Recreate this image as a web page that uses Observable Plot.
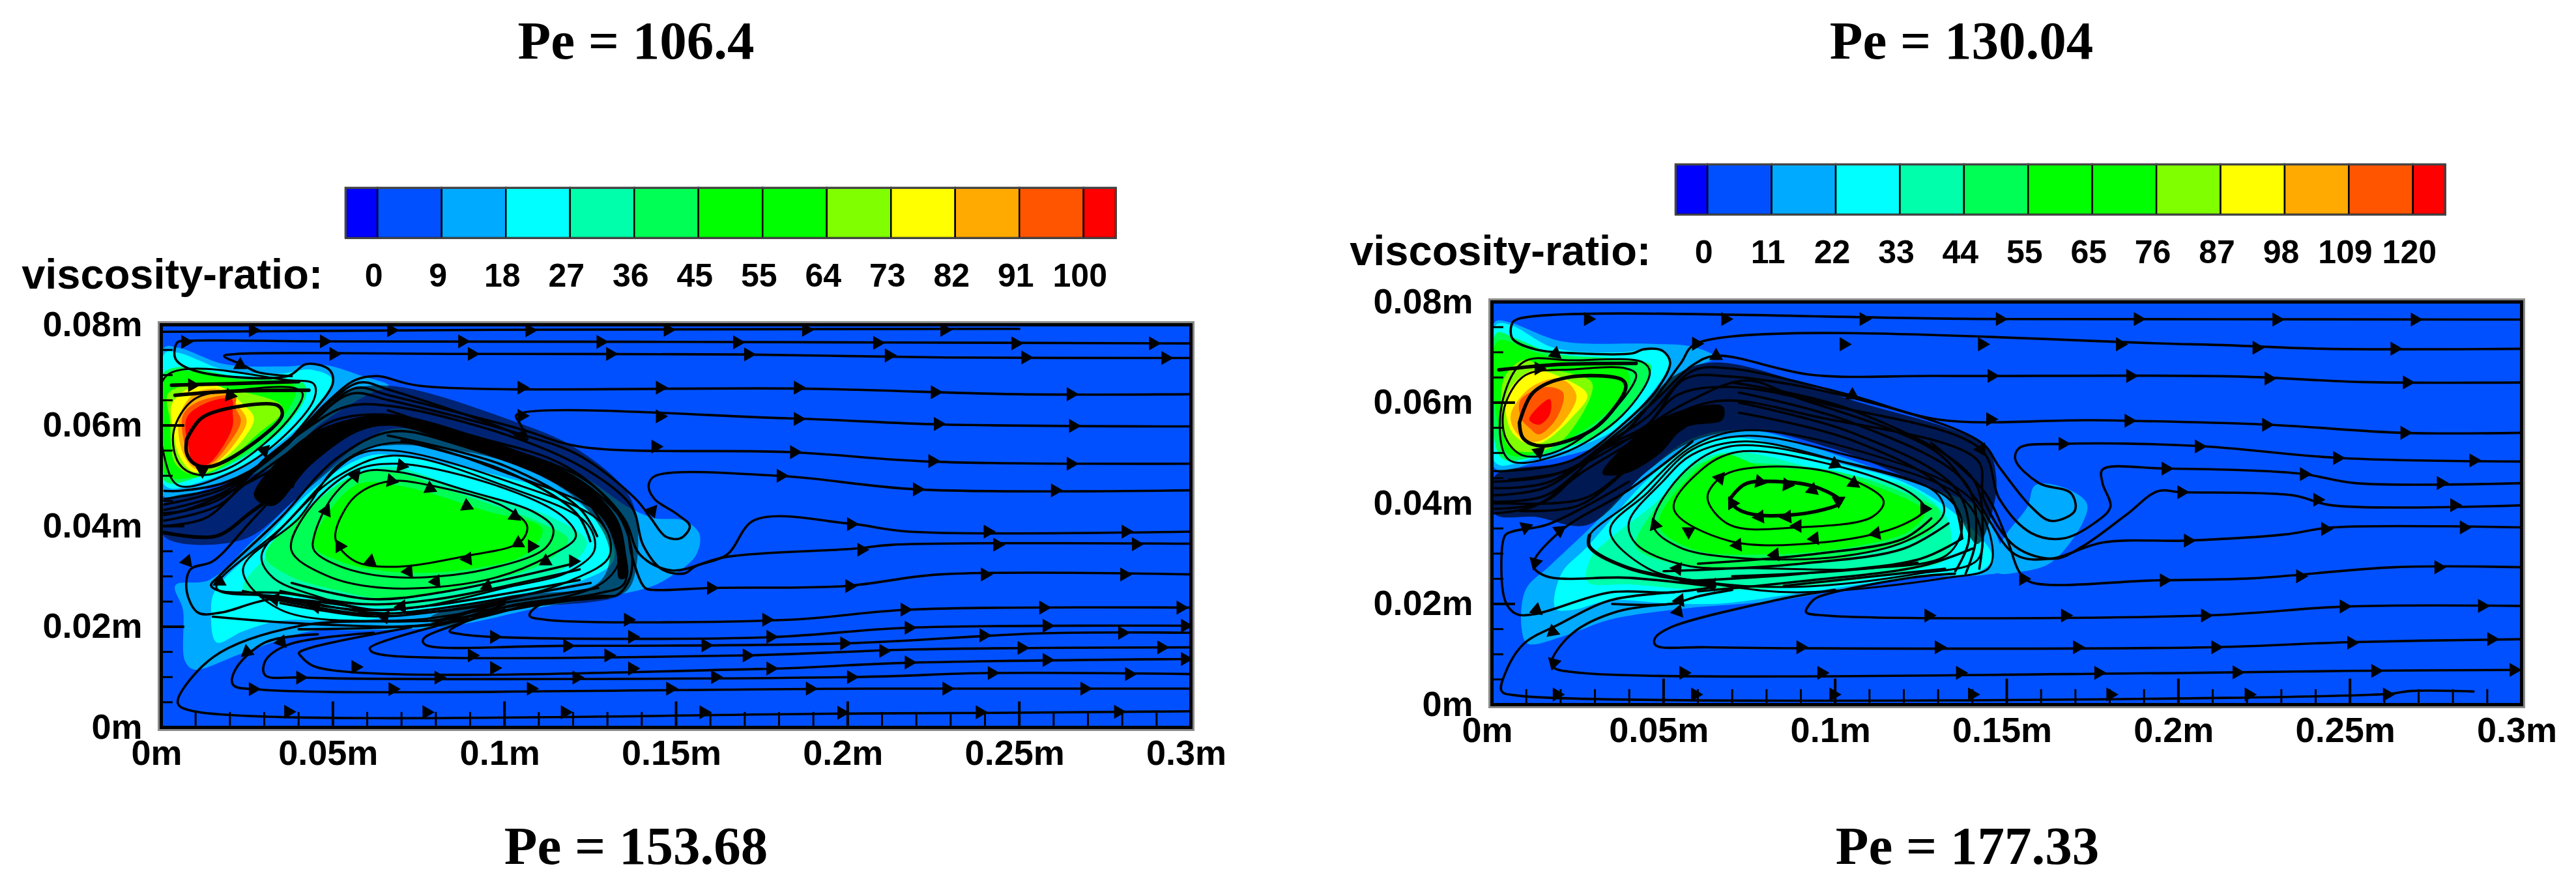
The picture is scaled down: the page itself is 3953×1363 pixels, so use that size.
<!DOCTYPE html>
<html><head><meta charset="utf-8">
<script src="https://cdn.jsdelivr.net/npm/d3@7"></script>
<script src="https://cdn.jsdelivr.net/npm/@observablehq/plot@0.6"></script>
<style>
html,body{margin:0;padding:0;background:#fff}
#page{position:relative;width:3953px;height:1363px;overflow:hidden;background:#fff}
#page>svg,#page>figure{position:absolute;margin:0}
.pe{position:absolute;font:bold 83px "Liberation Serif",serif;color:#000;white-space:nowrap;transform:translate(-50%,-50%)}
</style></head><body><div id="page"></div>
<script>
// All positions are in millimetres of the simulated domain (0-300 x 0-80).
const titles = [["Pe = 106.4",976,62],["Pe = 130.04",3010,62],["Pe = 153.68",976,1298],["Pe = 177.33",3019,1298]];
const bandColors = ["#0000ff","#0050ff","#00aaff","#00ffff","#00ffaa","#00ff55","#00ff00","#00ff00","#7fff00","#ffff00","#ffaa00","#ff5500","#ff0000"];
const labelsA = [0,9,18,27,36,45,55,64,73,82,91,100];
const labelsB = [0,11,22,33,44,55,65,76,87,98,109,120];
const xTicks = [0,50,100,150,200,250,300];
const yTicks = [0,20,40,60,80];
const xMinor = [10,20,30,40,60,70,80,90,110,120,130,140,160,170,180,190,210,220,230,240,260,270,280,290];
const yMinor = [5,10,15,25,30,35,45,50,55,65,70,75];
const xMajor = [50,100,150,200,250];
const yMajor = [20,40,60];

// ---------- filled viscosity-ratio bands, panel A (band index into bandColors, outline)
const fillsA = [
 [2,[[4.1,28.2],[14,29.3],[27,37.3],[43.4,48],[56.5,55.6],[67.4,59.3],[100,55.6],[122,50.2],[136,43.8],[143.7,41.6],[152.4,41.1],[156.8,38.4],[155.7,34.1],[148,29.8],[141.5,27.7],[111,23.9],[83.7,20.1],[58.6,19.3],[43.4,19.1],[23.8,14.8],[9.6,11.5],[6.9,13.2],[6.3,23.4]]],
 [2,[[0.7,45.9],[0.7,75.4],[5.2,75.4],[18.3,72.2],[34.7,71.7],[47.7,72],[58.6,69.8],[66.3,67.9],[60.8,66.3],[45.6,59.9],[34.7,52.4],[19.4,49.1]]],
 [3,[[15.6,27.1],[27,35.2],[45.6,48.1],[60.8,54],[73.9,53.4],[100,49.7],[119.7,45.4],[130.6,37.9],[131.7,33],[123,29.3],[100,26],[79.4,23.4],[56.5,21.2],[34.7,21.2],[23.8,19.1],[16.1,16.9],[14.5,23.4]]],
 [3,[[1.1,74.4],[5.2,74.4],[18.3,71.1],[34.7,70.3],[43.4,71.1],[50,69],[43.4,62],[29.2,54],[12.9,49.1],[1.1,48]]],
 [4,[[23.8,27.7],[36.8,37.9],[52.1,48.1],[65.2,51.8],[89.2,47],[114.2,41.6],[124,36.8],[118.6,32],[94.6,26.6],[77.2,24.2],[61.9,23.9],[45.6,25.5],[32.5,26.6]]],
 [5,[[30.3,34.1],[43.4,43.8],[56.5,50.2],[67.4,50.7],[89.2,45.9],[111,40.5],[118.6,37.3],[111,32.5],[89.2,28.2],[67.4,25.5],[52.1,27.1],[36.8,30.3]]],
 [6,[[44.5,36.2],[56.5,48.1],[69.5,48],[94.6,43],[111,39.5],[106.6,34.6],[89.2,31.4],[67.4,30.9],[52.1,33]]],
 [5,[[0.9,70.6],[23.8,69.5],[41.2,68.5],[42.3,66.3],[34.7,58.8],[20.5,52.4],[10.7,49.7],[1.1,48.9]]],
 [6,[[1.4,69.8],[23.8,69],[39,67.9],[39,65.8],[32.5,59.3],[19.4,52.4],[9.6,49.7],[1.4,50.2]]],
 [8,[[2,66.3],[9.6,68.2],[18.3,67.4],[34.7,64.2],[35.2,62.6],[28.1,58.3],[17.2,51.8],[9.6,50.2],[4.1,52.4],[2.5,60.9]]],
 [9,[[3.1,64.2],[9.6,67.9],[17.2,67.7],[23.8,64.2],[27,61.5],[23.8,57.2],[16.1,52.4],[9.6,50.7],[5.2,54],[3.6,58.8]]],
 [10,[[5.2,61.5],[9.6,66.3],[17.2,67.1],[22.7,63.6],[24.9,60.9],[21.6,56.6],[15,52.1],[10.1,51.3],[6.3,54.5]]],
 [11,[[6.3,62],[10.7,64.7],[21.6,65.8],[21.6,63.6],[23.2,60.9],[19.4,56.1],[14.5,52.4],[10.1,51.8],[7.4,55]]],
 [12,[[7.4,61.5],[12.9,64.4],[20.5,65.2],[20.8,62.6],[20.8,59.9],[18.2,56.1],[13.4,52.2],[9.8,52],[7.8,56.1]]]
];
const hatchA = [[66.3,67.9],[100,61.5],[121.9,55],[137.2,44.8],[137.2,28.7],[132.8,26],[100,23.4],[80.5,20.1],[78.3,21.7],[100,26],[127.3,28.7],[130.6,35.2],[121.9,44.8],[100,52.9],[67.4,56.1],[56.5,54.5],[40.1,45.9],[23.8,37.3],[0.9,37.9],[0.9,44.8],[19.4,48],[38,56.6],[52.1,66.3]];
const coreA = [[27,46],[42.3,57.8],[60.8,62],[69.5,61.6],[100,56],[121.9,49],[132.8,41.5],[135.5,34.1],[135.8,30],[133.5,29.5],[132.5,35.2],[128.4,41.6],[113.1,49.1],[89.2,55.4],[67.4,59.9],[57.6,58.8],[43.4,52],[32.5,44]];
const flowA = [
 [[0,78.6],[30,78.7],[100,79],[250,79.2]],
 [[0.9,47],[5.2,47],[18.3,48.6],[32.5,54],[43.4,62],[50,68.5],[48.9,71.1],[42.3,72.2],[36.8,69.8],[9.6,70.9],[4.1,73.3],[4.7,76.5],[7.4,76.8],[47.4,76.7],[150,76.6],[300,76.3]],
 [[300,73.4],[229,73.5],[169.4,74.1],[91,74.2],[22,74.2],[18.3,73.8],[23.8,72],[28,70.6],[38,69.8]],
 [[0.9,45.4],[18.3,48],[36.8,56.6],[47.7,64.2],[56.5,69],[63,69.8],[75,67.9],[187.8,67.3],[250,66.2],[300,66.2]],
 [[0.9,44.3],[18.3,47.5],[35.8,55.6],[46.7,63.1],[57.6,68.5],[66.3,67.1],[100,59.3],[106.6,57.2],[104.5,60.4],[103.4,62],[183.2,61.4],[227,60.2],[300,59.8]],
 [[0.9,43.2],[17.2,46.4],[33.6,54.5],[44.5,60.9],[56.5,67.4],[66.3,66],[104.5,59.3],[121.9,55.8],[183.2,54.7],[224.7,52.8],[300,52.4]],
 [[0.9,42.2],[17.2,45.4],[32.5,54.5],[42.3,59.9],[55.4,66.3],[66.3,65],[104.5,58.3],[121.9,54],[138.2,45.4],[142.6,41.6],[147,37.9],[151.3,37.6],[154,40],[150.2,42.4],[143.7,45.4],[142,48],[143.7,49.9],[179.8,50],[220,47.3],[300,47.1]],
 [[0.9,41.1],[17.2,44.3],[30.3,53.4],[40.1,58.3],[53.2,63.6],[66.3,63.9],[104.5,57.2],[125.1,50.7],[137.1,43.8],[140.4,36.2],[145.9,31.4],[152.4,30.6],[155.6,32],[164.8,34.3],[172.9,41.2],[200.5,40.5],[217.8,38.9],[300,38.9]],
 [[0,42.6],[6,43],[31.3,50.8],[52,60.2],[65.8,61.8],[100.4,55.5],[123.4,49.2],[134.9,41.4],[139.5,34.3],[148.7,31.2],[164.8,33.9],[201.7,35.5],[213.2,36.3],[300,36.5]],
 [[0.9,40],[12.9,41.6],[23.8,48],[36.8,54.5],[50,60.9],[67.4,62],[100,55.6],[121.9,49.1],[135,40.5],[137.1,34.1],[141,27.7],[144.1,27.3],[160.2,27.7],[199.4,28.1],[227,30.4],[300,30.4]],
 [[56.5,23.9],[32.5,25.5],[17.2,22.8],[10.7,22.8],[7.4,27.1],[8.5,31.4],[15,33],[27,41.6],[42.3,52.4],[56.5,59.3],[69.5,61],[94.6,57.2],[116.4,52.4],[130.6,44.8],[136.6,36.8],[136.6,29.8],[132.8,26.3],[128,26.1],[109.6,24.1],[107.3,22.2],[111.9,21.4],[183.2,21.4],[217.8,23.4],[300,23.8]],
 [[58.6,23.4],[36.8,26.6],[17.2,27.1],[14.5,28.2],[17.2,30.3],[34.7,41.6],[51,53.4],[67.4,58.8],[89.2,55.6],[116.4,49.1],[132.8,38.4],[135,28.7],[127.3,26.6],[100,23.9],[84,19.1],[86.6,18.6],[95.8,18],[176.3,17.9],[217.8,19.8],[300,20.2]],
 [[100,23.4],[77,18],[76.2,17.1],[77.3,16.3],[116.5,16.2],[199.4,16.7],[257,18.7],[300,18.8]],
 [[89.2,21.7],[60.8,15.8],[61.2,15.1],[65.8,14.3],[169.4,14.3],[220,15.5],[300,15.9]],
 [[72.8,19.9],[43.4,15.8],[40.1,14.8],[40.5,14.3],[45.1,12],[174,11.6],[215.5,12.8],[300,13.6]],
 [[61.9,18.8],[36.8,16.4],[30.3,13.2],[30.2,10.4],[40.5,9.9],[201.7,10],[240.8,10.8],[300,10.6]],
 [[45.6,18.5],[30.3,16.9],[21.6,11.5],[20.9,8.5],[29,7.5],[206.3,7.7],[300,7.7]],
 [[114,24.9],[82,21.4],[40.5,20.2],[15.2,14],[4.8,4.9],[8.3,3.4],[213.2,2.8],[300,3.2]],
 [[23.8,27.1],[56.5,23.4],[78.3,24.2],[121.9,29.3]],
 [[29.2,26],[58.6,22.6],[78.3,23.4],[125.1,28.7]],
 [[34.7,24.7],[61,22.1],[81.6,23.1],[127.3,27.7]],
 [[34.7,27.1],[58.6,24.5],[80.5,25.5],[121.9,31.4]],
 [[38,28.7],[61,25.5],[83.7,27.1],[119.7,32.5]],
 [[66,63],[100,54.5],[121.9,46.5],[129,40]],
 [[66,58],[100,52],[121.9,43.5],[127,38]],
 [[70,57],[100,51],[121,42.5],[125,37]],
 [[15,22],[45,20.5],[80,20.5],[100,24.5]],
 [[40,19.5],[70,20],[90,21.5],[110,25]]
];
const ringsA = [
 [[51,39.5],[56.5,45.9],[66.3,48.9],[78.3,48.1],[100,43.8],[106.6,40],[104.5,36.8],[89.2,34.1],[67.4,31.9],[56.5,33],[51,36.8]],
 [[44.5,37.9],[50,45.9],[58.6,50.7],[69.5,50.7],[89.2,47],[108.8,42.7],[114.2,39.5],[112,35.7],[94.6,31.4],[69.5,29.8],[52.1,32],[44.5,35.2]],
 [[37.9,35.2],[42.3,42.7],[55.4,50.7],[68.5,52.4],[100,47.5],[117.5,41.6],[120.8,37.9],[113.1,34.1],[94.6,29.3],[65.2,27.7],[47.7,30.3]],
 [[29.2,34.1],[37.9,41.6],[51,49.7],[67.4,54],[100,48],[124,40.5],[126.2,35.2],[118.6,30.9],[100,27.7],[75,23.9],[61.9,23.4],[45.6,26],[32.5,29.8]],
 [[16.1,27.7],[34.7,39.5],[56.5,54],[67.4,55],[100,49.1],[128.4,40.5],[130.6,34.1],[119.7,29.3],[89.2,23.9],[61.9,22.8],[34.7,26]],
 [[23.8,31.4],[40.1,41.6],[52.1,52.4],[68.7,56.6],[100,50.7],[131.7,40.5],[133.4,33],[127.3,28.2],[89.2,22.8],[67.4,21.2],[34.7,23.4]],
 [[3.6,58.8],[9.6,65.2],[23.8,67.1],[39,67.4],[41.2,66.3],[36.8,60.9],[20.5,51.8],[10.7,50.2],[5.2,52.4]],
 [[1.4,69.8],[36.8,69],[44.5,68.2],[44.5,65.2],[34.7,57.2],[20.5,50.7],[5.2,48],[1.4,52.4]]
];
const thickA = [
 [[7.4,57.2],[11.8,61.5],[23.8,63.9],[34.1,63.9],[35.2,62],[23.8,55],[14,51.8],[9.6,52.4],[7.4,54.5],[7.4,57.2]],
 [[3,68],[20,68.3],[40,68.7]],
 [[4,66],[20,66.8],[43,67]],
 [[0.9,38.7],[16,38],[26,42.7],[32.5,45.9]],
 [[105,24],[120,25.4],[130,26]],
 [[80,21],[100,25]]
];
const arrowsA = [
 [26.7,78.9,90],[67,78.9,90],[107.3,78.9,90],[147.6,79,90],[187.9,79,90],[228.2,79,90],
 [7,76.6,90],[47.4,76.7,90],[87.7,76.7,90],[128,76.6,90],[167.8,76.5,90],[208.6,76.4,90],[248.9,76.3,90],[289,76.3,90],
 [50.2,74.2,90],[90.5,74.2,90],[130.8,74.2,90],[171,74.1,90],[212,73.9,90],[251.8,73.5,90],[292.6,73.4,90],
 [105,67.5,90],[145.3,67.5,90],[185.5,67.5,90],[225.4,66.6,90],[265,66.2,90],
 [105,61.9,90],[145.3,61.8,90],[185.5,61.3,90],[226.3,60.3,90],[265.7,59.9,90],
 [144,55.8,90],[184.4,54.7,90],[224.7,52.9,90],[265,52.4,90],
 [180.5,50,90],[220.2,47.3,90],[260.4,47.1,90],
 [201,40.4,90],[240.8,38.9,90],[281,38.9,90],
 [204,35.3,90],[243.6,36.3,90],[284,36.4,90],
 [160.2,27.7,90],[200.5,28.1,90],[240,30.4,90],[280.6,30.4,90],
 [136,21.4,90],[176.3,21.4,90],[216.6,23.4,90],[257,23.8,90],[297,23.8,90],
 [97,18,90],[137.2,18,90],[177.5,18,90],[217.8,19.8,90],[258,20.2,90],[298.3,20.2,90],
 [118.3,16.2,90],[158.6,16.3,90],[199,16.7,90],[239.6,18.3,90],[280,18.8,90],
 [90.5,14.3,90],[130.3,14.3,90],[170.6,14.3,90],[210.4,15.2,90],[250.7,15.8,90],[291.4,15.9,90],
 [56.6,12,90],[97,11.8,90],[137.2,11.7,90],[177.5,11.7,90],[217.8,12.9,90],[258,13.4,90],[298.3,13.6,90],
 [40.5,9.9,90],[80.8,9.9,90],[121,9.9,90],[161.4,10,90],[201,10,90],[242,10.8,90],[282,10.6,90],
 [26.7,7.6,90],[67.4,7.6,90],[107.7,7.7,90],[148.3,7.7,90],[189,7.7,90],[228.8,7.7,90],[269,7.7,90],
 [37,3.1,90],[77.3,3,90],[117.6,3,90],[158,3,90],[198.2,2.9,90],[238.5,3,90],[278.8,3.1,90],
 [56.5,50,40],[67,49,100],[78.3,47.5,115],[89,44,115],[103,42,125],[108,36,210],[104,36.6,240],[89.2,33.5,265],[72,31,265],[61,33,250],[52,36,330],[48,43,25],[80,29,265],[95,28,250],[65,22,280],[45,24,280],[33,25.5,280],[35,17,260],[25,15,230],[17,29,0],[7.5,33,20],[112,33,240],[120,33,210],[70,52,100],[70,24,265],[38,49,50],[12,51,300],[9,68,90],[20,66,100],[23,72,120],[30,55,45],[143,43,160],[105,58,150]
];

// ---------- panel B
const fillsB = [
 [2,[[8.7,14.8],[9.8,22.8],[16.9,27.6],[27.8,34.6],[45.3,46.4],[58.4,52.9],[75.9,54.5],[99.9,49.7],[121.8,44.3],[143.6,38.4],[148,31.9],[151.3,27.1],[143.6,25.8],[121.8,25.2],[83.5,20.7],[56.2,19.1],[34.4,16.9],[21.3,13.7],[10.4,12.1]]],
 [2,[[147,26.3],[155,26.5],[163,28.3],[172,36],[173.3,40],[166.3,43.2],[158.3,43.6],[156,39.3],[150,34],[147,30]]],
 [2,[[0.8,76],[4.9,76],[20.2,72.2],[45.3,71.7],[58.4,71.1],[65,69],[56.2,66.3],[45.3,58.8],[36.6,52.9],[12.6,48.1],[0.8,47]]],
 [3,[[1.1,75.4],[5.5,75.4],[18,70.9],[37.7,70],[47.5,70.6],[51.9,68.5],[45.3,60.9],[34.4,54],[10.4,48.6],[1.1,48]]],
 [5,[[1.3,73.8],[7.1,72.7],[18,69.8],[36.6,68.7],[46.4,67.4],[45.3,64.7],[34.4,55],[14.7,49.7],[3.8,48.6],[1.3,50.7]]],
 [6,[[1.6,72.2],[12.6,70],[23.5,67.9],[38.8,66.8],[39.9,63.6],[31.1,56.6],[13.7,50.2],[4.9,49.7],[1.6,56.1]]],
 [8,[[3.8,65.2],[9.3,68.5],[14.7,67.1],[28.9,64.2],[28.9,61.5],[20.2,52.3],[12.6,50.2],[4.9,51.3],[2.7,58.8]]],
 [9,[[4.4,61.5],[11.5,66.3],[21.3,64.7],[27.8,61.5],[23.5,57.2],[14.7,52.1],[10.4,51.8],[5.5,54.5]]],
 [10,[[5.5,57.7],[11.5,63.1],[20.2,64.7],[24.6,61.5],[21.3,56.6],[14.7,52.6],[10.4,52.3],[6.6,54.5]]],
 [11,[[8.2,60.4],[15.8,63.1],[20.7,62],[19.1,57.2],[13.7,53.7],[10.9,55],[8.7,56.6]]],
 [12,[[10.9,56.6],[13.7,59.3],[16.9,60.7],[16.9,57.7],[13.7,55.6]]],
 [3,[[18.5,19.1],[20.2,26],[27.8,31.4],[46.4,45.4],[60.6,52.3],[73.7,52.9],[99.9,48.1],[119.6,44.3],[136,37.3],[145.8,29.3],[142.5,26.6],[121.8,25.2],[89,22.1],[67.2,20.1],[51.9,20.1],[34.4,20.7],[23.5,18.8]]],
 [4,[[27.8,24.4],[28.9,29.3],[34.4,33],[47.5,40],[60.6,48.6],[71.5,50.2],[99.9,45.9],[121.8,43.2],[132.7,36.8],[132.7,29.3],[121.8,26.6],[89,23.4],[61.7,22.8],[39.9,23.9]]],
 [5,[[42,31.4],[47.5,38.9],[60.6,48],[73.7,48.1],[99.9,46.4],[121.8,41.6],[130.5,38.4],[128.3,34.6],[116.3,31.4],[94.5,28.2],[67.2,27.1],[51.9,28.2]]],
 [6,[[48.6,35.7],[56.2,44.3],[67.2,49.7],[78.1,47.5],[99.9,45.9],[121.8,40.5],[126.2,38.4],[121.8,34.6],[105.4,31.4],[78.1,29.8],[58.4,30.9]]]
];
const hatchB = [[65,68],[105.4,60.4],[143.6,51.3],[146.9,45.4],[145.8,38.4],[141.4,31.9],[132.7,41.1],[116.3,46.4],[99.9,50.7],[75.9,54.5],[58.4,52.3],[45.3,46.4],[27.8,35.7],[12.6,37.3],[0.8,37.9],[0.8,45.4],[23.5,48.6],[39.9,56.1],[52.8,65.2]];
const coreB = [[32.2,45.9],[41,52.9],[51.9,57.7],[67.2,59.3],[67.2,56.6],[56.2,55],[48.6,49.7],[38.8,45.9]];
const flowB = [
 [[0.8,46.4],[3.8,46.4],[23.5,48.6],[38.8,56.1],[48.6,63.1],[51.9,68],[49.7,70.3],[44.2,70.6],[41,69.8],[24.6,69.8],[12.6,70.6],[6,72.7],[5.7,75.4],[7.1,76.5],[150,76.6],[300,76.5]],
 [[0.8,44.3],[19.1,45.9],[36.6,52.9],[46.4,59.9],[55.1,67.9],[59.5,71.7],[203.2,71.6],[242.4,70.7],[300,70.7]],
 [[0.8,43],[16.9,44.3],[36.6,54],[47.5,60.4],[58.4,67.4],[65,69.3],[93.4,65.5],[129.5,65.3],[217,65.2],[253.4,64.1],[300,64]],
 [[0.8,41.6],[15.8,43.2],[34.4,52.3],[45.3,57.2],[58.4,66.3],[69.3,66.8],[104.3,61.5],[130.5,56.6],[175.6,56.5],[226.3,55.6],[265.4,54],[300,54]],
 [[0.8,40.3],[15.8,41.6],[33.3,51.3],[45.3,55.6],[56.2,64.7],[69.3,65.2],[105.4,60.9],[142.5,52.1],[147.9,47.1],[157.1,39.3],[162.9,36.5],[169.8,38.5],[168.7,42],[159.4,44],[152.5,48.7],[153.7,51],[166.3,51.8],[205.5,51.4],[247,49],[300,48.3]],
 [[0.8,38.9],[15.8,40.5],[31.1,50.2],[43.1,54],[54,61.5],[69.3,63.1],[99.9,59.3],[142.5,50.7],[147.9,40.8],[157.1,34.1],[166.3,33],[175.6,36.1],[180.2,39.3],[177.9,44],[177.9,46.7],[196.3,46.9],[235.5,45.9],[251.6,44],[300,44]],
 [[0.8,38],[12.6,39.5],[26.8,46.4],[39.9,51.8],[51.9,57.2],[67.2,60.4],[94.5,57.2],[141.4,48.6],[143.3,40.8],[152.5,31.4],[164,29],[172,31.4],[184.8,37.7],[194,42.4],[200.9,42.2],[233.2,41.6],[244.7,39.6],[300,39.6]],
 [[5,44.7],[21.2,46.3],[37.3,51.8],[55.8,59.7],[74,64.4],[88,61.2],[129.5,50.2],[141,40.8],[152.5,29.8],[162.9,29],[177.9,32.2],[203.2,32.6],[230.9,33.8],[244.7,35.2],[300,35.2]],
 [[128,52],[143.3,42.4],[150,33],[153.7,26.3],[157.1,24.3],[194,24.7],[221.6,25.1],[263,27.3],[300,27.3]],
 [[134.9,26],[121.8,25.2],[94.5,21.2],[92.6,20],[91.5,18.4],[97.2,17.7],[207.8,17.7],[249.3,19.5],[300,19.6]],
 [[99.9,22.8],[82.4,20.7],[51.9,15.3],[47.5,13.2],[47.7,11.8],[62.7,11.4],[210.1,11.4],[249.3,12.4],[300,13]],
 [[54,20.1],[36.6,18.5],[23.5,14.2],[17.5,8.9],[17.7,7.5],[25.8,6.3],[203.2,6.3],[249.3,6.7],[300,6.9]],
 [[53,22.3],[34.4,20.7],[19.1,15.8],[9.3,12.1],[3.9,6.3],[2.8,2.7],[7.4,1.8],[260.8,2.1],[267.7,2.7],[286,2.6]],
 [[39.9,44.3],[28.9,40],[15.8,35.7],[6,34.4],[3.8,33.6],[3.8,20.7],[7.1,18],[12.6,18],[34.4,22.3],[51.9,22.3],[65,23.4]],
 [[58.4,52.3],[39.9,42.7],[20.2,34.6],[12,27.7],[15.8,25.5],[39.9,25.2],[65,23.4]],
 [[70,64],[105,58.5],[140,45],[143,35],[142,27]],
 [[72,62],[105,56],[138,44],[141,33],[138,26]],
 [[72,60],[105,54],[135,43],[139,33],[135,26.5]],
 [[72,58],[105,52.5],[133,42],[137,33]],
 [[55,24.5],[90,26],[125,29],[137,33]],
 [[60,22.5],[90,24.5],[125,27.5],[140,31]],
 [[50,26.5],[90,28],[120,31],[133,36]],
 [[60,28],[95,30],[120,33],[128,37]],
 [[70,25.5],[100,26.5],[124,28.2]],
 [[85,23.6],[110,25.4],[132,27]],
 [[35,20],[52,20],[60,21.5],[70,22.8]],
 [[54,55],[40,47],[25,39.5],[8,38.5]],
 [[58,56],[43,49],[27,41],[5,40]]
];
const ringsB = [
 [[62.8,41.1],[67.2,45.4],[78.1,47.2],[99.9,45.9],[114.1,40.5],[110.8,37.3],[89,35.2],[69.3,35.7]],
 [[53,38.9],[60.6,46.4],[71.5,50.2],[99.9,47.5],[121.8,42.1],[126.1,38.9],[119.6,35.7],[99.9,32.5],[69.3,32.5]],
 [[47,35.7],[56.2,46.4],[69.3,51.3],[99.9,48.6],[129.4,42.1],[131.6,37.9],[120.7,32.5],[99.9,29.3],[69.3,29.3],[54.1,31.4]],
 [[39.9,36.2],[49.7,44.3],[58.4,49.7],[73.7,52.3],[99.9,48.6],[132.7,41.1],[137,35.7],[132.7,29.8],[110.8,27.1],[78.1,27.1],[56.2,27.7],[42,31.9]],
 [[34.4,34.6],[45.3,42.1],[58.4,50.7],[73.7,53.4],[99.9,50.2],[136,41.6],[142.5,34.6],[141.4,28.7],[123.9,26],[89,23.4],[61.7,24.4],[45.3,27.1]],
 [[28.4,33.6],[40.9,40.5],[58.4,51.3],[73.7,54.5],[105.4,50.7],[139.2,41.1],[145.8,31.4],[144.7,27.1],[132.7,25.2],[89,22.3],[65,23.9],[39.9,27.1],[28.4,31.4]],
 [[3.6,59],[9.6,65.4],[23.5,66.6],[39,66.8],[42,65.6],[36,59],[20,50.6],[9,49.5],[4,53]],
 [[2.5,58],[9,68],[23.5,68.4],[44,68],[46,66],[38,57.5],[20,49.8],[5,48.6]]
];
const thickB = [
 [[69.3,40.8],[73.7,43.8],[83.5,44.3],[94.5,43.2],[101.6,40.3],[94.5,38.4],[78.1,37.6],[71.5,38.9],[69.3,40.8]],
 [[28.4,33.6],[28.4,31.4],[39.9,27.1],[65,23.9]],
 [[8,56],[12,62],[22,65],[38,64.5],[39,63],[31,55.5],[20,52],[13,51.5],[9,53],[8,56]],
 [[2,66.5],[20,67.6],[42,67.8]]
];
const arrowsB = [
 [28,76.6,90],[68,76.6,90],[108.3,76.6,90],[148,76.6,90],[188.2,76.6,90],[228.6,76.5,90],[268.9,76.5,90],
 [102.5,71.6,90],[142.8,71.6,90],[183,71.6,90],[222.8,70.9,90],[263,70.7,90],
 [145.6,65.3,90],[186,65.3,90],[226.3,64.8,90],[266.6,64,90],
 [145.2,56.7,90],[185.5,56.4,90],[225.6,55.6,90],[265.9,54,90],
 [166.3,51.8,90],[206,51.3,90],[246.3,49,90],[286,48.5,90],
 [196.3,46.9,90],[236.6,45.8,90],[276.5,44,90],
 [200.9,42.2,90],[240.5,40.7,90],[280.4,39.6,90],
 [202.8,32.6,90],[242.8,34.9,90],[283.2,35.2,90],
 [154.8,25,90],[195.8,24.7,90],[235.5,25.5,90],[275.8,27.3,90],
 [127.2,17.7,90],[167,17.7,90],[207.8,17.7,90],[248.2,19.5,90],[288.5,19.6,90],
 [89.9,11.4,90],[130.2,11.4,90],[170.5,11.4,90],[210.8,11.4,90],[250.4,12.3,90],[291.2,13,90],
 [55.8,6.3,90],[96,6.3,90],[136.4,6.3,90],[176.7,6.3,90],[217,6.4,90],[257.4,6.7,90],[297.7,6.9,90],
 [18.9,2,90],[59.2,2,90],[99.5,2,90],[139.9,2,90],[180.2,2,90],[220.5,2,90],[260.8,2,90],
 [78,44.3,100],[86,43.7,95],[93.4,42.7,130],[101,40.5,180],[86,37.3,265],[78,37.3,265],[70,40,330],[66.4,45,40],[105.4,44,125],[89,35.5,270],[126,38.9,210],[111.9,34,260],[94,33,265],[71.5,31.7,265],[57.3,34.4,300],[47.5,35.7,340],[99.9,47.8,115],[82.4,29.8,265],[54,27,275],[63.9,23.9,275],[54.7,20.7,265],[54.2,18.5,260],[13,18.8,250],[17.7,14.5,230],[18,8.3,195],[9.8,35.2,70],[19.7,34.6,55],[12.6,28.2,195],[18.5,69.7,130],[13.6,66.8,90],[59.5,71.7,90],[65.3,69.3,120],[105,61.5,120],[142.5,50.7,150],[13.7,50.2,290]
];

const sans = '"Liberation Sans",Arial,sans-serif';
const place = (el,left,top)=>{el.style.left=left+"px";el.style.top=top+"px";document.getElementById("page").appendChild(el);};
const rowsOf = lists => lists.flatMap((pts,id)=>pts.map(([x,y])=>({x,y,id})));

function field(fills,hatch,hatchOpacity,core,flow,rings,thick,arrows){
  const bands = fills.flatMap(([band,pts],id)=>pts.map(([x,y])=>({x,y,id,band})));
  const hatchRows = hatch.map(([x,y])=>({x,y}));
  const coreRows = core.map(([x,y])=>({x,y}));
  return Plot.plot({
    width:1900,height:750,marginLeft:247,marginRight:73,marginTop:58,marginBottom:74,
    x:{domain:[0,300],axis:null},y:{domain:[0,80],axis:null},
    color:{type:"identity"},
    style:{fontFamily:sans,fontWeight:"bold",background:"transparent",color:"#000"},
    marks:[
      Plot.frame({fill:"#0050ff",stroke:null}),
      Plot.line(bands,{x:"x",y:"y",z:"id",fill:d=>bandColors[d.band],stroke:null,curve:"catmull-rom-closed",clip:true}),
      Plot.line(hatchRows,{x:"x",y:"y",fill:"#000",fillOpacity:hatchOpacity,stroke:null,curve:"catmull-rom-closed",clip:true}),
      Plot.line(coreRows,{x:"x",y:"y",fill:"#000",stroke:null,curve:"catmull-rom-closed",clip:true}),
      Plot.line(rowsOf(rings),{x:"x",y:"y",z:"id",stroke:"#000",strokeWidth:3,curve:"catmull-rom-closed",clip:true}),
      Plot.line(rowsOf(flow),{x:"x",y:"y",z:"id",stroke:"#000",strokeWidth:3.6,curve:"catmull-rom",clip:true}),
      Plot.line(rowsOf(thick),{x:"x",y:"y",z:"id",stroke:"#000",strokeWidth:5.5,curve:"catmull-rom",clip:true}),
      Plot.dot(arrows,{x:d=>d[0],y:d=>d[1],rotate:d=>d[2],symbol:"triangle",r:8,fill:"#000",stroke:null}),
      Plot.ruleX(xMinor,{y1:0,y2:3,stroke:"#000",strokeWidth:3}),
      Plot.ruleX(xMajor,{y1:0,y2:5.1,stroke:"#000",strokeWidth:4}),
      Plot.ruleY(yMinor,{x1:0,x2:3.4,stroke:"#000",strokeWidth:3}),
      Plot.ruleY(yMajor,{x1:0,x2:6.8,stroke:"#000",strokeWidth:4}),
      Plot.frame({stroke:"#000",strokeWidth:5}),
      Plot.frame({stroke:"#8a8a8a",strokeWidth:3,inset:-4}),
      Plot.axisX({ticks:xTicks,tickSize:0,tickPadding:19,fontSize:54,dx:-7,label:null,tickFormat:d=>d/1000+"m"}),
      Plot.axisY({ticks:yTicks,tickSize:0,tickPadding:29,fontSize:54,label:null,tickFormat:d=>d/1000+"m"})
    ]
  });
}
function colorbar(labels,marginLeft,barWidth,titleDx){
  const cells = bandColors.map((c,i)=>({x1:i===0?-0.5:i-1,x2:i===bandColors.length-1?labels.length-0.5:i,c}));
  return Plot.plot({
    width:1900,height:210,marginLeft,marginRight:1900-marginLeft-barWidth,marginTop:18,marginBottom:115,
    x:{domain:[-0.5,labels.length-0.5],axis:null},y:{domain:[0,1],axis:null},
    color:{type:"identity"},
    style:{fontFamily:sans,fontWeight:"bold",background:"transparent",color:"#000"},
    marks:[
      Plot.rect(cells,{x1:"x1",x2:"x2",y1:0,y2:1,fill:"c",stroke:"#000",strokeWidth:2.5}),
      Plot.frame({stroke:"#444",strokeWidth:3}),
      Plot.text(labels,{x:(d,i)=>i,y:0,text:d=>String(d),dy:58,dx:-6,fontSize:50,fill:"#000"}),
      Plot.text(["viscosity-ratio:"],{x:-0.5,y:0,dy:57,dx:titleDx,textAnchor:"end",fontSize:65,fill:"#000"})
    ]
  });
}
place(colorbar(labelsA,530,1182,-35),0,270);
place(field(fillsA,hatchA,0.55,coreA,flowA,ringsA,thickA,arrowsA),0,440);
place(colorbar(labelsB,529,1181,-38),2042,234);
place(field(fillsB,hatchB,0.68,coreB,flowB,ringsB,thickB,arrowsB),2042,405);
for(const [t,x,y] of titles){const d=document.createElement("div");d.className="pe";d.textContent=t;place(d,x,y);}
</script></body></html>
